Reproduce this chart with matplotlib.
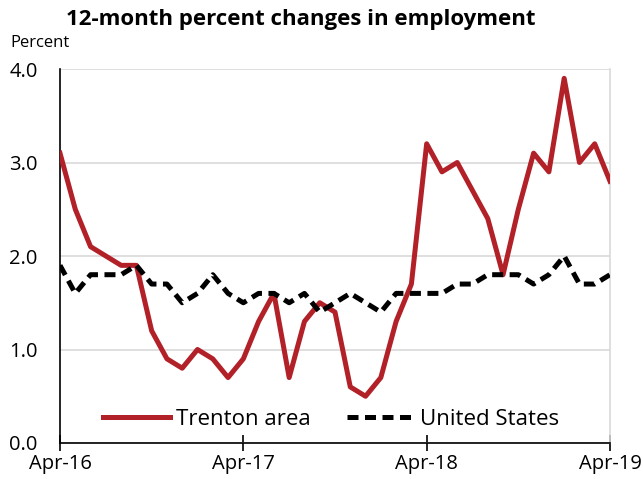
import numpy as np
import matplotlib
matplotlib.use('Agg')
import matplotlib.pyplot as plt

plt.rcParams['font.family'] = ['Open Sans', 'DejaVu Sans']

# Monthly 12-month percent changes, Apr-16 through Apr-19
tick_labels = ['Apr-16', 'Apr-17', 'Apr-18', 'Apr-19']
trenton = [3.1, 2.5, 2.1, 2.0, 1.9, 1.9, 1.2, 0.9, 0.8, 1.0, 0.9, 0.7,
           0.9, 1.3, 1.6, 0.7, 1.3, 1.5, 1.4, 0.6, 0.5, 0.7, 1.3, 1.7,
           3.2, 2.9, 3.0, 2.7, 2.4, 1.8, 2.5, 3.1, 2.9, 3.9, 3.0, 3.2,
           2.8]
united_states = [1.9, 1.6, 1.8, 1.8, 1.8, 1.9, 1.7, 1.7, 1.5, 1.6, 1.8, 1.6,
                 1.5, 1.6, 1.6, 1.5, 1.6, 1.4, 1.5, 1.6, 1.5, 1.4, 1.6, 1.6,
                 1.6, 1.6, 1.7, 1.7, 1.8, 1.8, 1.8, 1.7, 1.8, 2.0, 1.7, 1.7,
                 1.8]

months = np.arange(len(trenton))

fig = plt.figure(figsize=(6.43, 4.79), dpi=100)
ax = fig.add_axes([60/643, 1 - 443/479, 550/643, 374/479])

ax.plot(months, trenton, color='#b22028', lw=3.6, label='Trenton area', zorder=3)
ax.plot(months, united_states, color='black', lw=3.6, ls=(0, (2.2, 1.3)),
        label='United States', zorder=3)

ax.set_xlim(0, 36)
ax.set_ylim(0, 4)
yvals = np.arange(0, 4.01, 1.0)
ax.set_yticks(yvals)
ax.set_yticklabels(['%.1f' % v for v in yvals], fontsize=14.5)
ax.tick_params(axis='y', length=0, pad=16)
ax.set_xticks([0, 12, 24, 36])
ax.set_xticklabels(tick_labels, fontsize=14.5)
ax.tick_params(axis='x', direction='inout', length=12, width=1.2, pad=2)
ax.grid(axis='y', color='#d9d9d9', lw=1.2, zorder=0)

ax.spines['left'].set_color('black')
ax.spines['left'].set_linewidth(1.2)
ax.spines['bottom'].set_color('black')
ax.spines['bottom'].set_linewidth(1.2)
ax.spines['top'].set_visible(False)
ax.spines['right'].set_color('#d9d9d9')
ax.spines['right'].set_linewidth(1.2)

ax.legend(loc='center', ncol=2, frameon=False, fontsize=16,
          handlelength=3.0, columnspacing=1.6, handletextpad=0.3,
          bbox_to_anchor=(0.493, 0.064))

fig.text(301/643, 1 - 20/479, '12-month percent changes in employment',
         ha='center', va='center', fontsize=16, fontweight='bold')
fig.text(10/643, 1 - 43/479, 'Percent', ha='left', va='center', fontsize=12)

fig.savefig('out.png', dpi=100)
